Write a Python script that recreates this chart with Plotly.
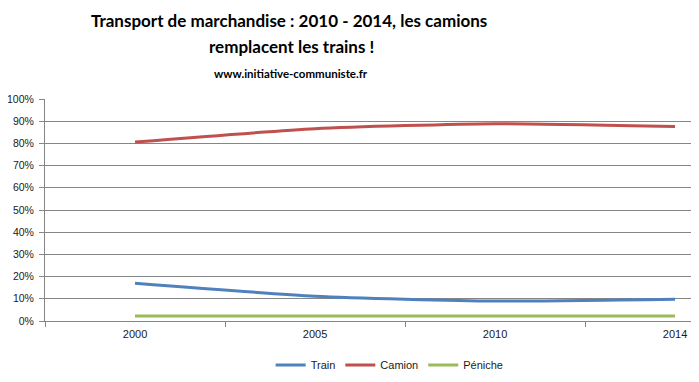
import plotly.graph_objects as go

years = ["2000", "2005", "2010", "2014"]
train = [17.0, 11.2, 9.0, 9.8]
camion = [80.6, 86.6, 88.9, 87.6]
peniche = [2.2, 2.2, 2.2, 2.2]

fig = go.Figure()
for name, vals, color in [("Train", train, "#4F81BD"), ("Camion", camion, "#C0504D"), ("Péniche", peniche, "#9BBB59")]:
    fig.add_trace(go.Scatter(x=years, y=vals, name=name, mode="lines",
                             line=dict(color=color, width=3, shape="spline", smoothing=0.6)))

title_font = dict(family="Lato", size=17, color="black")
fig.update_layout(
    width=699, height=382,
    margin=dict(l=37, r=8, t=91, b=69),
    paper_bgcolor="white", plot_bgcolor="white",
    font=dict(family="Liberation Sans", size=11, color="#1a1a1a"),
    showlegend=True,
    legend=dict(orientation="h", x=0.527, xanchor="center", y=-0.198, yanchor="middle",
                font=dict(size=11), itemwidth=30, traceorder="normal"),
    xaxis=dict(type="category", range=[-0.5, 3.133], tickson="boundaries", ticks="outside",
               ticklen=5, tickcolor="#868686", showline=True, linecolor="#868686",
               showgrid=False, tickfont=dict(size=11), automargin=False, ticklabelstandoff=3),
    yaxis=dict(range=[0, 100], dtick=10, ticksuffix="%", ticks="outside", ticklen=5,
               tickcolor="#868686", showline=True, linecolor="#868686",
               showgrid=True, gridcolor="#868686", gridwidth=1, zeroline=False,
               tickfont=dict(size=10.5), automargin=False, ticklabelstandoff=3),
    annotations=[
        dict(text="<b>Transport de marchandise : 2010 - 2014, les camions</b>", xref="paper", yref="paper",
             x=(289-45)/654, y=(321-20)/222, xanchor="center", yanchor="middle", showarrow=False,
             font=title_font),
        dict(text="<b>remplacent les trains !</b>", xref="paper", yref="paper",
             x=(291-45)/654, y=(321-47)/222, xanchor="center", yanchor="middle", showarrow=False,
             font=title_font),
        dict(text="<b>www.initiative-communiste.fr</b>", xref="paper", yref="paper",
             x=(291-45)/654, y=(321-73)/222, xanchor="center", yanchor="middle", showarrow=False,
             font=dict(family="Lato", size=11.5, color="black")),
    ],
)
fig.write_html("out.html")
